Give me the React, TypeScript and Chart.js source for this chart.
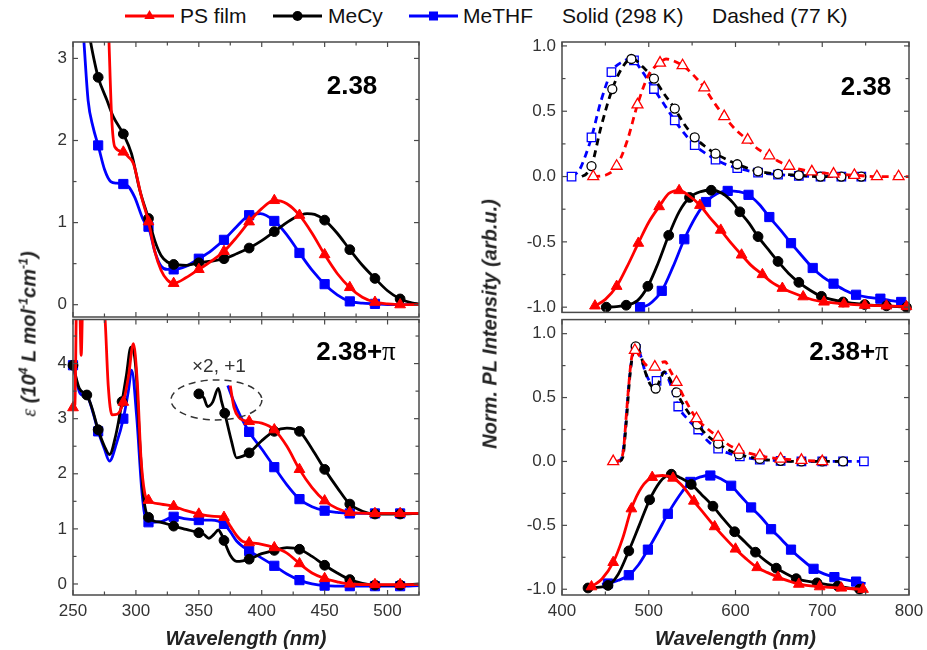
import React, { useEffect, useRef } from 'react';
import { Chart, registerables } from 'chart.js';

Chart.register(...registerables);

const FONT = '"Liberation Sans", Arial, Helvetica, sans-serif';
const SERIF = '"Liberation Serif", "Times New Roman", serif';
const RED = '#ff0000';
const BLACK = '#000000';
const BLUE = '#0000ff';

// ---------- tick values ----------
const absXTicks = [250, 300, 350, 400, 450, 500];
const absXMinor = [275, 325, 375, 425, 475, 525];
const absATicks = [0, 1, 2, 3];
const absAMinor = [0.5, 1.5, 2.5];
const absBTicks = [0, 1, 2, 3, 4];
const absBMinor = [0.5, 1.5, 2.5, 3.5, 4.5];
const plXTicks = [400, 500, 600, 700, 800];
const plXMinor = [450, 550, 650, 750];
const plYTicks = [-1, -0.5, 0, 0.5, 1];
const plYMinor = [-0.75, -0.25, 0.25, 0.75];

// ---------- Absorption, 2.38 (top left) ----------
const absA_cy_nm = [258, 264, 267.5, 270, 277, 282, 290, 296.5, 303, 310, 315, 320, 325, 330, 340, 350, 360, 370, 380, 390, 400, 410, 425, 436, 442, 450, 460, 470, 480, 490, 500, 510, 520, 525];
const absA_cy_eps = [3.8, 3.2, 2.93, 2.77, 2.49, 2.29, 2.08, 1.84, 1.4, 1.05, 0.78, 0.6, 0.52, 0.49, 0.48, 0.51, 0.53, 0.56, 0.62, 0.69, 0.78, 0.89, 1.05, 1.11, 1.1, 1.03, 0.87, 0.67, 0.48, 0.32, 0.17, 0.07, 0.02, 0.01];
const absA_cy_marks = [270, 290, 310, 330, 350, 370, 390, 410, 450, 470, 490, 510];

const absA_ps_nm = [277, 278.5, 280.7, 283.3, 290, 294, 298, 304.5, 310, 315, 320, 325, 330, 340, 350, 360, 370, 380, 390, 400, 410, 420, 430, 440, 450, 460, 470, 480, 490, 500, 510, 525];
const absA_ps_eps = [3.9, 3.25, 2.29, 1.92, 1.86, 1.8, 1.72, 1.31, 1.01, 0.65, 0.42, 0.3, 0.26, 0.33, 0.43, 0.53, 0.65, 0.82, 1.01, 1.17, 1.27, 1.23, 1.09, 0.87, 0.61, 0.38, 0.21, 0.09, 0.03, 0.01, 0.0, 0.0];
const absA_ps_marks = [290, 310, 330, 350, 370, 390, 410, 430, 450, 470, 490, 510];

const absA_thf_nm = [256, 258.7, 262, 266, 270, 275, 280, 285, 290, 294, 299, 306, 310, 315, 320, 325, 330, 340, 350, 360, 370, 380, 390, 399, 410, 420, 430, 440, 450, 460, 470, 480, 490, 500, 525];
const absA_thf_eps = [3.8, 3.2, 2.49, 2.16, 1.94, 1.65, 1.5, 1.48, 1.47, 1.44, 1.31, 1.03, 0.95, 0.65, 0.47, 0.43, 0.43, 0.47, 0.56, 0.66, 0.79, 0.95, 1.09, 1.11, 1.02, 0.85, 0.63, 0.42, 0.25, 0.12, 0.04, 0.02, 0.01, 0.0, 0.0];
const absA_thf_marks = [270, 290, 310, 330, 350, 370, 390, 410, 430, 450, 470, 490];

// ---------- Absorption, 2.38+pi (bottom left) ----------
const absB_cy_nm = [250, 255, 261, 265, 270, 275, 279, 284, 289, 292.5, 296, 300, 303, 306, 310, 320, 330, 340, 350, 354, 358, 362, 365.5, 368, 370, 375, 380, 385, 390, 400, 410, 420, 430, 440, 450, 460, 470, 480, 490, 510, 525];
const absB_cy_eps = [3.97, 3.55, 3.43, 3.2, 2.8, 2.5, 2.35, 2.7, 3.31, 3.8, 4.3, 3.9, 2.6, 1.6, 1.21, 1.12, 1.05, 0.99, 0.93, 0.9, 0.83, 0.9, 0.98, 0.9, 0.79, 0.52, 0.41, 0.42, 0.45, 0.55, 0.61, 0.66, 0.63, 0.5, 0.34, 0.2, 0.08, 0.01, -0.02, -0.02, 0.0];
const absB_cy_marks = [250, 261, 270, 289, 310, 330, 350, 370, 390, 410, 430, 450, 470, 490, 510];

const absB_ps_nm = [250, 251.5, 253, 255, 256.5, 258, 273, 275.5, 278, 281, 285, 290, 294, 298, 301, 304, 307, 310, 320, 330, 340, 350, 360, 370, 375, 380, 385, 390, 400, 410, 420, 430, 440, 450, 460, 470, 490, 510, 525];
const absB_ps_eps = [3.2, 3.25, 5.3, 5.3, 4.15, 5.3, 5.4, 4.8, 3.6, 3.07, 3.08, 3.3, 3.75, 4.36, 3.7, 2.3, 1.65, 1.52, 1.45, 1.41, 1.33, 1.27, 1.23, 1.21, 1.05, 0.88, 0.77, 0.75, 0.72, 0.66, 0.56, 0.37, 0.2, 0.1, 0.04, 0.0, -0.01, -0.01, -0.01];
const absB_ps_marks = [250, 290, 310, 330, 350, 370, 390, 410, 430, 450, 470, 490, 510];

const absB_thf_nm = [250, 255.6, 262, 266, 270, 275, 279, 284.7, 290, 294, 296.6, 300.6, 304.6, 307, 310, 320, 330, 340, 350, 360, 370, 375, 380, 390, 400, 410, 420, 430, 440, 450, 470, 490, 510, 525];
const absB_thf_eps = [3.97, 3.46, 3.37, 3.1, 2.77, 2.45, 2.23, 2.56, 3.0, 3.5, 3.88, 3.04, 1.72, 1.25, 1.12, 1.13, 1.22, 1.18, 1.16, 1.16, 1.09, 0.95, 0.78, 0.6, 0.47, 0.33, 0.18, 0.07, 0.0, -0.03, -0.04, -0.04, -0.04, -0.03];
const absB_thf_marks = [250, 270, 290, 310, 330, 350, 370, 390, 410, 430, 450, 470, 490, 510];

// "x2, +1" scaled copies
const absBx_cy_nm = [350, 354, 357, 361, 365.5, 368, 370.6, 376, 380, 385, 390, 400, 410, 420, 430, 440, 450, 460, 470, 480, 490, 510, 525];
const absBx_cy_eps = [3.45, 3.38, 3.22, 3.3, 3.55, 3.32, 3.1, 2.59, 2.29, 2.32, 2.38, 2.6, 2.77, 2.83, 2.77, 2.45, 2.08, 1.75, 1.45, 1.32, 1.27, 1.27, 1.28];
const absBx_cy_marks = [350, 370.6, 390, 410, 430, 450, 470, 490, 510];

const absBx_ps_nm = [375, 378, 382, 390, 400, 410, 420, 430, 440, 450, 460, 470, 490, 510, 525];
const absBx_ps_eps = [3.6, 3.2, 3.02, 2.95, 2.92, 2.8, 2.5, 2.08, 1.75, 1.51, 1.37, 1.3, 1.28, 1.28, 1.28];
const absBx_ps_marks = [390, 410, 430, 450, 470, 490, 510];

const absBx_thf_nm = [373, 378, 383, 390, 400, 410, 420, 430, 440, 450, 460, 470, 490, 510, 525];
const absBx_thf_eps = [3.6, 3.3, 3.05, 2.76, 2.45, 2.12, 1.8, 1.54, 1.4, 1.33, 1.3, 1.28, 1.28, 1.28, 1.28];
const absBx_thf_marks = [390, 410, 430, 450, 470, 490, 510];

// ---------- PL, 2.38 (top right) ----------
const plA_ps77_nm = [436, 450, 463, 475, 487, 500, 513, 520, 527, 539, 551, 564, 575, 587, 600, 614, 626, 639, 650, 662, 675, 688, 713, 737, 763, 788, 800];
const plA_ps77_I = [0.0, 0.01, 0.08, 0.27, 0.55, 0.78, 0.87, 0.9, 0.89, 0.85, 0.78, 0.68, 0.57, 0.46, 0.36, 0.28, 0.21, 0.16, 0.115, 0.08, 0.055, 0.037, 0.02, 0.01, 0.0, 0.0, 0.0];
const plA_ps77_marks = [436, 463, 487, 513, 539, 564, 587, 614, 639, 662, 688, 713, 737, 763, 788];

const plA_cy77_nm = [423, 428, 434, 445, 458, 470, 480, 485, 493, 506, 518, 530, 541, 553, 565, 577, 590, 602, 626, 649, 673, 698, 722, 745];
const plA_cy77_I = [0.0, 0.02, 0.08, 0.38, 0.67, 0.84, 0.9, 0.89, 0.84, 0.75, 0.63, 0.52, 0.4, 0.3, 0.23, 0.175, 0.13, 0.094, 0.04, 0.02, 0.01, 0.0, 0.0, 0.0];
const plA_cy77_marks = [434, 458, 480, 506, 530, 553, 577, 602, 626, 649, 673, 698, 722, 745];

const plA_thf77_nm = [411, 420, 427, 434, 445, 457, 470, 478, 483, 490, 498, 506, 518, 530, 541, 553, 565, 577, 590, 602, 626, 649, 673, 698, 722, 745];
const plA_thf77_I = [0.0, 0.05, 0.16, 0.3, 0.58, 0.8, 0.88, 0.9, 0.89, 0.83, 0.75, 0.67, 0.55, 0.43, 0.33, 0.24, 0.18, 0.13, 0.09, 0.065, 0.03, 0.015, 0.005, 0.0, 0.0, 0.0];
const plA_thf77_marks = [411, 434, 457, 483, 506, 530, 553, 577, 602, 626, 649, 673, 698, 722, 745];

const plA_ps298_nm = [438, 450, 463, 475, 488, 500, 512, 523, 530, 535, 545, 559, 570, 583, 595, 607, 618, 631, 642, 654, 666, 678, 690, 702, 725, 749, 774, 797, 800];
const plA_ps298_I = [-0.99, -0.94, -0.84, -0.69, -0.51, -0.35, -0.23, -0.13, -0.11, -0.107, -0.14, -0.22, -0.31, -0.41, -0.51, -0.6, -0.68, -0.75, -0.81, -0.855, -0.89, -0.92, -0.945, -0.96, -0.975, -0.985, -0.99, -0.995, -0.995];
const plA_ps298_marks = [438, 463, 488, 512, 535, 559, 583, 607, 631, 654, 678, 702, 725, 749, 774, 797];

const plA_cy298_nm = [451, 463, 474, 487, 499, 511, 523, 535, 547, 560, 572, 585, 597, 605, 616, 626, 638, 649, 661, 673, 686, 699, 724, 749, 774, 797, 800];
const plA_cy298_I = [-1.0, -0.995, -0.985, -0.95, -0.84, -0.66, -0.45, -0.27, -0.16, -0.115, -0.105, -0.13, -0.2, -0.27, -0.36, -0.46, -0.56, -0.65, -0.74, -0.81, -0.87, -0.917, -0.96, -0.98, -0.99, -1.0, -1.0];
const plA_cy298_marks = [451, 474, 499, 523, 547, 572, 605, 626, 649, 673, 699, 724, 749, 774, 797];

const plA_thf298_nm = [490, 500, 515, 528, 541, 554, 566, 579, 591, 603, 615, 627, 639, 652, 664, 677, 689, 701, 713, 726, 739, 753, 767, 779, 791, 800];
const plA_thf298_I = [-1.0, -0.98, -0.875, -0.69, -0.48, -0.31, -0.195, -0.13, -0.11, -0.115, -0.14, -0.21, -0.31, -0.41, -0.51, -0.61, -0.7, -0.77, -0.82, -0.87, -0.905, -0.925, -0.935, -0.95, -0.96, -0.97];
const plA_thf298_marks = [490, 515, 541, 566, 591, 615, 639, 664, 689, 713, 739, 767, 791];

// ---------- PL, 2.38+pi (bottom right) ----------
const plB_ps77_nm = [459, 467, 471, 474, 477, 480, 484, 488, 495, 502, 507, 513, 519, 524, 532, 543, 555, 567, 580, 592, 604, 628, 652, 676, 700];
const plB_ps77_I = [0.0, 0.01, 0.1, 0.35, 0.6, 0.8, 0.87, 0.84, 0.77, 0.73, 0.74, 0.77, 0.78, 0.72, 0.62, 0.47, 0.336, 0.26, 0.19, 0.13, 0.09, 0.045, 0.02, 0.01, 0.0];
const plB_ps77_marks = [459, 484, 507, 532, 555, 580, 604, 628, 652, 676, 700];

const plB_cy77_nm = [466, 470, 474, 478, 481, 485, 490, 496, 502, 508, 513, 518, 523, 532, 544, 556, 568, 580, 592, 604, 628, 652, 676, 700, 724];
const plB_cy77_I = [0.0, 0.03, 0.3, 0.65, 0.82, 0.9, 0.85, 0.7, 0.6, 0.57, 0.64, 0.7, 0.66, 0.54, 0.4, 0.29, 0.2, 0.14, 0.09, 0.055, 0.02, 0.005, 0.0, 0.0, 0.0];
const plB_cy77_marks = [485, 508, 532, 556, 580, 604, 628, 652, 676, 700, 724];

const plB_thf77_nm = [464, 469, 473, 477, 481, 485, 490, 496, 503, 509, 514, 518, 523, 534, 545, 557, 568, 580, 592, 605, 628, 652, 676, 700, 724, 748];
const plB_thf77_I = [0.0, 0.03, 0.25, 0.6, 0.82, 0.88, 0.84, 0.7, 0.62, 0.63, 0.68, 0.7, 0.64, 0.43, 0.33, 0.25, 0.16, 0.1, 0.065, 0.04, 0.015, 0.005, 0.0, 0.0, 0.0, 0.0];
const plB_thf77_marks = [485, 509, 534, 557, 580, 605, 628, 652, 676, 700, 724, 748];

const plB_ps298_nm = [434, 446, 459, 470, 480, 492, 504, 516, 528, 540, 552, 564, 576, 588, 600, 612, 625, 637, 649, 661, 673, 697, 722, 747, 750];
const plB_ps298_I = [-0.98, -0.92, -0.79, -0.6, -0.37, -0.2, -0.124, -0.11, -0.13, -0.2, -0.31, -0.41, -0.51, -0.6, -0.685, -0.76, -0.83, -0.87, -0.905, -0.935, -0.96, -0.98, -0.99, -1.0, -1.0];
const plB_ps298_marks = [434, 459, 480, 504, 528, 552, 576, 600, 625, 649, 673, 697, 722, 747];

const plB_cy298_nm = [430, 441, 453, 465, 477, 489, 501, 513, 520, 526, 537, 549, 561, 574, 586, 599, 611, 623, 635, 647, 659, 670, 694, 718, 743, 750];
const plB_cy298_I = [-0.99, -0.985, -0.97, -0.88, -0.7, -0.5, -0.3, -0.16, -0.115, -0.1, -0.13, -0.18, -0.26, -0.35, -0.45, -0.55, -0.63, -0.71, -0.78, -0.835, -0.88, -0.917, -0.95, -0.975, -1.0, -1.0];
const plB_cy298_marks = [430, 453, 477, 501, 526, 549, 574, 599, 623, 647, 670, 694, 718, 743];

const plB_thf298_nm = [446, 453, 465, 477, 488, 499, 510, 522, 535, 548, 560, 571, 583, 595, 606, 618, 630, 641, 653, 664, 677, 690, 702, 714, 726, 739, 750];
const plB_thf298_I = [-0.96, -0.955, -0.93, -0.89, -0.81, -0.69, -0.56, -0.41, -0.27, -0.16, -0.12, -0.11, -0.135, -0.19, -0.27, -0.36, -0.44, -0.53, -0.61, -0.69, -0.77, -0.84, -0.88, -0.905, -0.925, -0.94, -0.955];
const plB_thf298_marks = [453, 477, 499, 522, 548, 571, 595, 618, 641, 664, 690, 714, 739];

// ---------- helpers ----------
function series(label: string, nm: number[], val: number[], marks: number[], color: string, style: string, dashed: boolean) {
  let r = 6;
  if (style === 'circle') r = dashed ? 4.5 : 4.9;
  if (style === 'rect') r = dashed ? 6 : 6.5;
  if (style === 'triangle') r = dashed ? 6.3 : 6.2;
  return {
    label,
    data: nm.map((x, i) => ({ x, y: val[i] })),
    borderColor: color,
    backgroundColor: color,
    borderWidth: 2.8,
    borderDash: dashed ? [7, 5] : [],
    pointStyle: style,
    pointRadius: (c: any) => (c && c.raw && marks.includes(c.raw.x) ? r : 0),
    pointHoverRadius: 0,
    pointBackgroundColor: dashed ? '#ffffff' : color,
    pointBorderColor: color,
    pointBorderWidth: dashed ? 1.3 : 1,
    cubicInterpolationMode: 'monotone',
    fill: false,
    clip: { left: 8, top: 0, right: 8, bottom: 8 },
  };
}

type Label = { text: string; pi?: boolean; cx: number; cy: number };

type PanelCfg = {
  left: number; top: number; width: number; height: number;
  pad: { top: number; right: number; bottom: number; left: number };
  yW: number; xH: number; showX: boolean;
  xMin: number; xMax: number; yMin: number; yMax: number;
  xTicks: number[]; xMinor: number[]; yTicks: number[]; yMinor: number[];
  yFmt: (v: number) => string;
  datasets: any[];
  labels: Label[];
  ellipse?: { x: number; y: number; rx: number; ry: number; text: string; tx: number; ty: number };
};

function makeDecor(p: PanelCfg) {
  return {
    id: 'decor',
    afterDraw(chart: any) {
      const { ctx, chartArea: a } = chart;
      const xs = chart.scales.x;
      const ys = chart.scales.y;
      ctx.save();
      // annotation
      if (p.ellipse) {
        const e = p.ellipse;
        const ex = xs.getPixelForValue(e.x);
        const ey = ys.getPixelForValue(e.y);
        ctx.strokeStyle = '#333';
        ctx.lineWidth = 1.5;
        ctx.setLineDash([7, 5]);
        ctx.beginPath();
        ctx.ellipse(ex, ey, e.rx, e.ry, 0, 0, Math.PI * 2);
        ctx.stroke();
        ctx.setLineDash([]);
        ctx.fillStyle = '#333';
        ctx.font = `19px ${FONT}`;
        ctx.textAlign = 'center';
        ctx.textBaseline = 'middle';
        ctx.fillText(e.text, xs.getPixelForValue(e.tx), ys.getPixelForValue(e.ty));
      }
      // frame
      ctx.strokeStyle = '#4a4a4a';
      ctx.lineWidth = 1.5;
      ctx.strokeRect(a.left, a.top, a.right - a.left, a.bottom - a.top);
      ctx.lineWidth = 1.2;
      const seg = (x1: number, y1: number, x2: number, y2: number) => {
        ctx.beginPath();
        ctx.moveTo(x1, y1);
        ctx.lineTo(x2, y2);
        ctx.stroke();
      };
      const tx = (v: number, len: number) => {
        const px = xs.getPixelForValue(v);
        seg(px, a.bottom, px, a.bottom - len);
        seg(px, a.top, px, a.top + len);
      };
      const ty = (v: number, len: number) => {
        const py = ys.getPixelForValue(v);
        seg(a.left, py, a.left + len, py);
        seg(a.right, py, a.right - len, py);
      };
      p.xTicks.forEach((v) => tx(v, 5));
      p.xMinor.forEach((v) => tx(v, 3.5));
      p.yTicks.forEach((v) => ty(v, 5));
      p.yMinor.forEach((v) => ty(v, 3.5));
      // panel labels
      ctx.fillStyle = '#000';
      ctx.textBaseline = 'middle';
      ctx.textAlign = 'left';
      p.labels.forEach((l) => {
        const bold = `bold 26px ${FONT}`;
        const serif = `27px ${SERIF}`;
        ctx.font = bold;
        const w1 = ctx.measureText(l.text).width;
        let w2 = 0;
        if (l.pi) {
          ctx.font = serif;
          w2 = ctx.measureText('π').width;
        }
        const x0 = l.cx - p.left - (w1 + w2) / 2;
        const y0 = l.cy - p.top;
        ctx.font = bold;
        ctx.fillText(l.text, x0, y0);
        if (l.pi) {
          ctx.font = serif;
          ctx.fillText('π', x0 + w1, y0);
        }
      });
      // x title
      if (p.showX) {
        ctx.font = `italic bold 20px ${FONT}`;
        ctx.textAlign = 'center';
        ctx.fillStyle = '#222';
        ctx.fillText('Wavelength (nm)', (a.left + a.right) / 2, 639 - p.top);
      }
      ctx.restore();
    },
  };
}

function Panel({ p }: { p: PanelCfg }) {
  const ref = useRef<HTMLCanvasElement | null>(null);
  useEffect(() => {
    if (!ref.current) return;
    const tickFont = { family: FONT, size: 17 };
    const chart = new Chart(ref.current, {
      type: 'line',
      data: { datasets: p.datasets },
      options: {
        responsive: false,
        animation: false,
        devicePixelRatio: 1,
        events: [],
        layout: { padding: p.pad },
        plugins: { legend: { display: false }, tooltip: { enabled: false } },
        scales: {
          x: {
            type: 'linear',
            min: p.xMin,
            max: p.xMax,
            display: p.showX,
            grid: { display: false, drawTicks: false },
            border: { display: false },
            afterBuildTicks: (s: any) => {
              s.ticks = p.xTicks.map((v) => ({ value: v }));
            },
            afterFit: (s: any) => {
              s.height = p.xH;
              s.paddingLeft = 0;
              s.paddingRight = 0;
            },
            ticks: { font: tickFont, color: '#333', padding: 6, maxRotation: 0, autoSkip: false, callback: (v: any) => String(v) },
          },
          y: {
            type: 'linear',
            min: p.yMin,
            max: p.yMax,
            grid: { display: false, drawTicks: false },
            border: { display: false },
            afterBuildTicks: (s: any) => {
              s.ticks = p.yTicks.map((v) => ({ value: v }));
            },
            afterFit: (s: any) => {
              s.width = p.yW;
              s.paddingTop = 0;
              s.paddingBottom = 0;
            },
            ticks: { font: tickFont, color: '#333', padding: 6, autoSkip: false, callback: (v: any) => p.yFmt(Number(v)) },
          },
        },
      } as any,
      plugins: [makeDecor(p)],
    });
    return () => chart.destroy();
  }, []);
  return (
    <canvas
      ref={ref}
      width={p.width}
      height={p.height}
      style={{ position: 'absolute', left: p.left, top: p.top, width: p.width, height: p.height }}
    />
  );
}

const intFmt = (v: number) => String(Math.round(v));
const oneFmt = (v: number) => v.toFixed(1);

const panels: PanelCfg[] = [
  {
    left: 0, top: 30, width: 430, height: 290,
    pad: { top: 12, right: 11, bottom: 3, left: 0 },
    yW: 73, xH: 0, showX: false,
    xMin: 250, xMax: 525, yMin: -0.15, yMax: 3.2,
    xTicks: absXTicks, xMinor: absXMinor, yTicks: absATicks, yMinor: absAMinor, yFmt: intFmt,
    datasets: [
      series('PS film', absA_ps_nm, absA_ps_eps, absA_ps_marks, RED, 'triangle', false),
      series('MeCy', absA_cy_nm, absA_cy_eps, absA_cy_marks, BLACK, 'circle', false),
      series('MeTHF', absA_thf_nm, absA_thf_eps, absA_thf_marks, BLUE, 'rect', false),
    ],
    labels: [{ text: '2.38', cx: 352, cy: 87 }],
  },
  {
    left: 0, top: 312, width: 430, height: 338,
    pad: { top: 5, right: 11, bottom: 0, left: 0 },
    yW: 73, xH: 55, showX: true,
    xMin: 250, xMax: 525, yMin: -0.2, yMax: 4.8,
    xTicks: absXTicks, xMinor: absXMinor, yTicks: absBTicks, yMinor: absBMinor, yFmt: intFmt,
    datasets: [
      series('PS film x2+1', absBx_ps_nm, absBx_ps_eps, absBx_ps_marks, RED, 'triangle', false),
      series('PS film', absB_ps_nm, absB_ps_eps, absB_ps_marks, RED, 'triangle', false),
      series('MeCy x2+1', absBx_cy_nm, absBx_cy_eps, absBx_cy_marks, BLACK, 'circle', false),
      series('MeCy', absB_cy_nm, absB_cy_eps, absB_cy_marks, BLACK, 'circle', false),
      series('MeTHF x2+1', absBx_thf_nm, absBx_thf_eps, absBx_thf_marks, BLUE, 'rect', false),
      series('MeTHF', absB_thf_nm, absB_thf_eps, absB_thf_marks, BLUE, 'rect', false),
    ],
    labels: [{ text: '2.38+', pi: true, cx: 356, cy: 353 }],
    ellipse: { x: 364, y: 3.34, rx: 45.5, ry: 20, text: '×2, +1', tx: 366, ty: 3.95 },
  },
  {
    left: 470, top: 30, width: 457, height: 290,
    pad: { top: 12, right: 18, bottom: 3, left: 0 },
    yW: 92, xH: 0, showX: false,
    xMin: 400, xMax: 800, yMin: -1.04, yMax: 1.03,
    xTicks: plXTicks, xMinor: plXMinor, yTicks: plYTicks, yMinor: plYMinor, yFmt: oneFmt,
    datasets: [
      series('PS film 77K', plA_ps77_nm, plA_ps77_I, plA_ps77_marks, RED, 'triangle', true),
      series('MeCy 77K', plA_cy77_nm, plA_cy77_I, plA_cy77_marks, BLACK, 'circle', true),
      series('MeTHF 77K', plA_thf77_nm, plA_thf77_I, plA_thf77_marks, BLUE, 'rect', true),
      series('PS film 298K', plA_ps298_nm, plA_ps298_I, plA_ps298_marks, RED, 'triangle', false),
      series('MeCy 298K', plA_cy298_nm, plA_cy298_I, plA_cy298_marks, BLACK, 'circle', false),
      series('MeTHF 298K', plA_thf298_nm, plA_thf298_I, plA_thf298_marks, BLUE, 'rect', false),
    ],
    labels: [{ text: '2.38', cx: 866, cy: 88 }],
  },
  {
    left: 470, top: 312, width: 457, height: 338,
    pad: { top: 5, right: 18, bottom: 0, left: 0 },
    yW: 92, xH: 55, showX: true,
    xMin: 400, xMax: 800, yMin: -1.045, yMax: 1.11,
    xTicks: plXTicks, xMinor: plXMinor, yTicks: plYTicks, yMinor: plYMinor, yFmt: oneFmt,
    datasets: [
      series('PS film 77K', plB_ps77_nm, plB_ps77_I, plB_ps77_marks, RED, 'triangle', true),
      series('MeCy 77K', plB_cy77_nm, plB_cy77_I, plB_cy77_marks, BLACK, 'circle', true),
      series('MeTHF 77K', plB_thf77_nm, plB_thf77_I, plB_thf77_marks, BLUE, 'rect', true),
      series('PS film 298K', plB_ps298_nm, plB_ps298_I, plB_ps298_marks, RED, 'triangle', false),
      series('MeCy 298K', plB_cy298_nm, plB_cy298_I, plB_cy298_marks, BLACK, 'circle', false),
      series('MeTHF 298K', plB_thf298_nm, plB_thf298_I, plB_thf298_marks, BLUE, 'rect', false),
    ],
    labels: [{ text: '2.38+', pi: true, cx: 849, cy: 353 }],
  },
];

const legendY = 16;

function LegendMark({ left, color, shape }: { left: number; color: string; shape: string }) {
  const w = 49;
  const c = w / 2;
  let mark: any = null;
  if (shape === 'triangle') mark = <polygon points={`${c},${9 - 6} ${c + 5.2},${9 + 3} ${c - 5.2},${9 + 3}`} fill={color} />;
  if (shape === 'circle') mark = <circle cx={c} cy={9} r={5} fill={color} />;
  if (shape === 'rect') mark = <rect x={c - 4.5} y={4.5} width={9} height={9} fill={color} />;
  return (
    <svg width={w} height={18} style={{ position: 'absolute', left, top: legendY - 9 }}>
      <line x1={0} y1={9} x2={w} y2={9} stroke={color} strokeWidth={3} />
      {mark}
    </svg>
  );
}

function LegendText({ left, text }: { left: number; text: string }) {
  return (
    <div style={{ position: 'absolute', left, top: legendY - 12, fontSize: 21, lineHeight: '24px', whiteSpace: 'nowrap', color: '#111' }}>
      {text}
    </div>
  );
}

const supStyle: React.CSSProperties = { fontSize: '0.62em', verticalAlign: 'super', lineHeight: 0 };

export default function App() {
  return (
    <div style={{ position: 'absolute', left: 0, top: 0, width: 927, height: 650, background: '#fff', fontFamily: FONT, overflow: 'hidden' }}>
      {panels.map((p, i) => (
        <Panel key={i} p={p} />
      ))}
      <LegendMark left={125} color={RED} shape="triangle" />
      <LegendText left={180} text="PS film" />
      <LegendMark left={273} color={BLACK} shape="circle" />
      <LegendText left={328} text="MeCy" />
      <LegendMark left={409} color={BLUE} shape="rect" />
      <LegendText left={463} text="MeTHF" />
      <LegendText left={562} text="Solid (298 K)" />
      <LegendText left={712} text="Dashed (77 K)" />
      <div
        style={{
          position: 'absolute', left: 29, top: 334, transform: 'translate(-50%, -50%) rotate(-90deg)',
          whiteSpace: 'nowrap', fontWeight: 'bold', fontStyle: 'italic', fontSize: 20, color: '#222',
        }}
      >
        <span style={{ fontFamily: SERIF, fontWeight: 'normal' }}>ε</span> (10<sup style={supStyle}>4</sup> L mol<sup style={supStyle}>-1</sup>cm<sup style={supStyle}>-1</sup>)
      </div>
      <div
        style={{
          position: 'absolute', left: 490, top: 324, transform: 'translate(-50%, -50%) rotate(-90deg)',
          whiteSpace: 'nowrap', fontWeight: 'bold', fontStyle: 'italic', fontSize: 20, color: '#222',
        }}
      >
        Norm. PL Intensity (arb.u.)
      </div>
    </div>
  );
}
